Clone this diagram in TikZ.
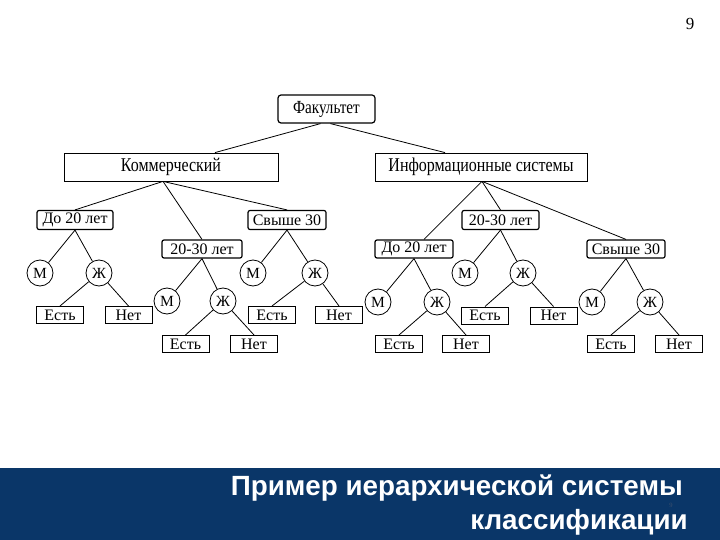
\documentclass[tikz,border=0pt]{standalone}
\usepackage{fontspec}
\setmainfont{Liberation Serif}
\newfontfamily\narrowserif[FakeStretch=0.82]{Liberation Serif}
\newfontfamily\titlesans{Liberation Sans}
\definecolor{banner}{RGB}{10,54,104}
\definecolor{faint}{RGB}{60,80,110}
\begin{document}
\begin{tikzpicture}[x=1pt,y=-1pt,
  every node/.style={inner sep=0pt},
  topbox/.style={draw, rounded corners=3pt, line width=1.2pt, minimum width=97pt, minimum height=28pt, font=\narrowserif\fontsize{18.5}{20}\selectfont},
  catbox/.style={draw, line width=0.8pt, minimum height=28pt, font=\narrowserif\fontsize{19.5}{21}\selectfont},
  agebox/.style={draw, rounded corners=2pt, line width=1.2pt, minimum height=19pt, font=\fontsize{16}{18}\selectfont},
  circ/.style={circle, draw, line width=0.8pt, minimum size=26pt, font=\fontsize{15.5}{17}\selectfont},
  leaf/.style={draw, line width=1pt, minimum width=47pt, minimum height=17pt, font=\fontsize{16}{18}\selectfont},
  conn/.style={line width=0.8pt}]
\useasboundingbox (0,0) rectangle (720,540);
% page number
\node (pnum) at (690,24) {\fontsize{17}{19}\selectfont 9};
% banner
\fill[banner] (0,468) rectangle (720,540);
\node[anchor=base east, text=white, font=\titlesans\bfseries\fontsize{27.8}{30}\selectfont] (t1) at (683,495) {Пример иерархической системы};
\node[anchor=base east, text=white, font=\titlesans\bfseries\fontsize{27.8}{30}\selectfont] (t2) at (688,529) {классификации};
\node[text=faint, font=\fontsize{6.5}{7}\selectfont] (pn2) at (671,505) {9};
% tree
\node[topbox] (fac) at (326.5,109) {Факультет};
\node[catbox, minimum width=214pt] (kom) at (171,167) {Коммерческий};
\node[catbox, minimum width=212pt] (inf) at (481,167) {Информационные системы};
% age boxes
\node[agebox, minimum width=76pt] (LA) at (75,220) {До 20 лет};
\node[agebox, minimum width=80pt, minimum height=18pt] (LB) at (202,249) {20-30 лет};
\node[agebox, minimum width=78pt] (LC) at (287,220) {Свыше 30};
\node[agebox, minimum width=78pt, minimum height=18pt] (RA) at (414,249) {До 20 лет};
\node[agebox, minimum width=77pt] (RB) at (500.5,220) {20-30 лет};
\node[agebox, minimum width=78pt, minimum height=18pt] (RC) at (626,249) {Свыше 30};
% circles
\node[circ] (LAm) at (40,273) {М};
\node[circ] (LAz) at (99,273) {Ж};
\node[circ] (LBm) at (167,301) {М};
\node[circ] (LBz) at (223,301) {Ж};
\node[circ] (LCm) at (253,273) {М};
\node[circ] (LCz) at (315,273) {Ж};
\node[circ] (RAm) at (378,302) {М};
\node[circ] (RAz) at (437,302) {Ж};
\node[circ] (RBm) at (465,273) {М};
\node[circ] (RBz) at (523,273) {Ж};
\node[circ] (RCm) at (592,302) {М};
\node[circ] (RCz) at (650,302) {Ж};
% leaves
\node[leaf] (LAe) at (60,315) {Есть};
\node[leaf] (LAn) at (128.5,315) {Нет};
\node[leaf] (LBe) at (185.5,344) {Есть};
\node[leaf] (LBn) at (254,344) {Нет};
\node[leaf] (LCe) at (272,315) {Есть};
\node[leaf] (LCn) at (339,315) {Нет};
\node[leaf] (RAe) at (399,344) {Есть};
\node[leaf] (RAn) at (466,344) {Нет};
\node[leaf] (RBe) at (485,315.5) {Есть};
\node[leaf] (RBn) at (553.5,315.5) {Нет};
\node[leaf] (RCe) at (611,344) {Есть};
\node[leaf] (RCn) at (679,344) {Нет};
% connectors
\draw[conn] ([xshift=-6pt]fac.south) -- ([xshift=44pt]kom.north);
\draw[conn] ([xshift=4pt]fac.south) -- ([xshift=-36pt]inf.north);
\draw[conn] ([xshift=-8pt]kom.south) -- (LA.north);
\draw[conn] ([xshift=-8pt]kom.south) -- (LB.north);
\draw[conn] ([xshift=-8pt]kom.south) -- (LC.north);
\draw[conn] ([xshift=1pt]inf.south) -- ([xshift=10pt]RA.north);
\draw[conn] ([xshift=1pt]inf.south) -- (RB.north);
\draw[conn] ([xshift=1pt]inf.south) -- (RC.north);
\foreach \p in {LA,LB,LC,RA,RB,RC}{
  \draw[conn] (\p.south) -- (\p m);
  \draw[conn] (\p.south) -- (\p z);
  \draw[conn] (\p z) -- (\p e.north);
  \draw[conn] (\p z) -- (\p n.north);
}
\end{tikzpicture}
\end{document}
